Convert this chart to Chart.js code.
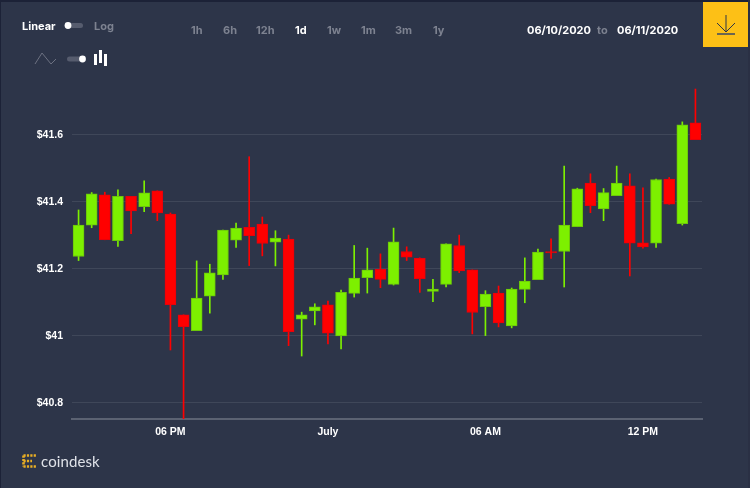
<!DOCTYPE html>
<html lang="en">
<head>
    <meta charset="UTF-8">
    <title>Price Chart</title>
    <script src="https://cdn.jsdelivr.net/npm/chart.js@4/dist/chart.umd.min.js"></script>
    <style>
        html, body { margin: 0; padding: 0; background: #2d3549; overflow: hidden; }
        #page { position: relative; width: 750px; height: 488px; background: #2d3549; overflow: hidden; font-family: Inter, sans-serif; }
        #priceChart { position: absolute; left: 0; top: 0; }
        #topEdge { position: absolute; left: 0; top: 0; width: 750px; height: 2px; background: #1c2237; }
        #leftEdge { position: absolute; left: 0; top: 0; width: 1px; height: 488px; background: #1c2237; }
        .label { position: absolute; font-size: 11px; line-height: 14px; font-weight: 700; white-space: nowrap; color: #7d8290; }
        .on { color: #fff; }
        #download { position: absolute; left: 703px; top: 2px; width: 45px; height: 45px; background: #fdc016; }
        #rightEdge { position: absolute; left: 748px; top: 0; width: 2px; height: 488px; background: #2a3044; }
        svg { position: absolute; }
        #brand { position: absolute; left: 41px; top: 451px; font: 400 15px/20px Lato, sans-serif; letter-spacing: 0.1px; color: #dfe2e8; }
    </style>
</head>
<body>
<div id="page">
    <canvas id="priceChart" width="750" height="488"></canvas>
    <div id="topEdge"></div>
    <div id="leftEdge"></div>
    <div id="rightEdge"></div>

    <div class="label on" style="left:22px;top:19px">Linear</div>
    <div class="label" style="left:94px;top:19px">Log</div>
    <svg style="left:64px;top:21px" width="20" height="10">
        <rect x="1" y="2" width="18" height="5" rx="2.5" fill="#565c6e"></rect>
        <circle cx="4" cy="4.5" r="3.4" fill="#fff"></circle>
    </svg>

    <div class="label" style="left:191px;top:23px">1h</div>
    <div class="label" style="left:223px;top:23px">6h</div>
    <div class="label" style="left:256px;top:23px">12h</div>
    <div class="label on" style="left:295px;top:23px">1d</div>
    <div class="label" style="left:327px;top:23px">1w</div>
    <div class="label" style="left:361px;top:23px">1m</div>
    <div class="label" style="left:395px;top:23px">3m</div>
    <div class="label" style="left:433px;top:23px">1y</div>

    <svg style="left:34px;top:50px" width="24" height="16">
        <polyline points="1,14 8,3 17,14 22,9" fill="none" stroke="#6d7282" stroke-width="1"></polyline>
    </svg>
    <svg style="left:66px;top:54px" width="22" height="10">
        <rect x="1" y="2.5" width="18" height="5" rx="2.5" fill="#565c6e"></rect>
        <circle cx="16.5" cy="5" r="3.4" fill="#fff"></circle>
    </svg>
    <svg style="left:93px;top:49px" width="16" height="18">
        <rect x="1" y="5" width="3" height="11" fill="#fff"></rect>
        <rect x="6" y="1" width="3" height="13" fill="#fff"></rect>
        <rect x="11" y="5" width="3" height="12" fill="#fff"></rect>
    </svg>

    <div class="label on" style="left:527px;top:23px">06/10/2020</div>
    <div class="label" style="left:597px;top:23px">to</div>
    <div class="label on" style="left:617px;top:23px">06/11/2020</div>

    <div id="download">
        <svg style="left:13px;top:13px" width="20" height="24">
            <path d="M10 0 V17 M1 8 L10 17 L19 8" fill="none" stroke="#2d3549" stroke-width="1"></path>
            <rect x="1" y="18" width="18" height="2" fill="#6b6650"></rect>
        </svg>
    </div>

    <svg style="left:22px;top:454px" width="16" height="15">
        <path d="M1.5 1.5 H14 M1.5 7 H10 M1.5 12.5 H14 M1.5 1.5 V12.5" fill="none" stroke="#e9ae24" stroke-width="2.6" stroke-dasharray="2.2 1.2"></path>
    </svg>
    <div id="brand">coindesk</div>
</div>

<script>
    // half hour candles, session time
    const categories = [
        '14:30', '15:00', '15:30', '16:00', '16:30', '17:00', '17:30', '18:00',
        '18:30', '19:00', '19:30', '20:00', '20:30', '21:00', '21:30', '22:00',
        '22:30', '23:00', '23:30', '00:00', '00:30', '01:00', '01:30', '02:00',
        '02:30', '03:00', '03:30', '04:00', '04:30', '05:00', '05:30', '06:00',
        '06:30', '07:00', '07:30', '08:00', '08:30', '09:00', '09:30', '10:00',
        '10:30', '11:00', '11:30', '12:00', '12:30', '13:00', '13:30', '14:00'
    ];
    const opens = [
        41.237, 41.331, 41.421, 41.284, 41.417, 41.386, 41.433, 41.364,
        41.063, 41.016, 41.119, 41.182, 41.286, 41.324, 41.334, 41.280,
        41.289, 41.050, 41.075, 41.093, 41.000, 41.127, 41.174, 41.199,
        41.154, 41.252, 41.232, 41.133, 41.154, 41.270, 41.197, 41.087,
        41.128, 41.030, 41.139, 41.168, 41.252, 41.252, 41.326, 41.456,
        41.379, 41.419, 41.448, 41.278, 41.277, 41.468, 41.335, 41.636
    ];
    const closes = [
        41.331, 41.424, 41.287, 41.417, 41.373, 41.427, 41.367, 41.093,
        41.028, 41.113, 41.188, 41.316, 41.322, 41.299, 41.276, 41.292,
        41.013, 41.063, 41.087, 41.008, 41.130, 41.173, 41.197, 41.169,
        41.281, 41.235, 41.171, 41.140, 41.275, 41.194, 41.070, 41.125,
        41.039, 41.140, 41.164, 41.250, 41.248, 41.331, 41.439, 41.389,
        41.428, 41.456, 41.277, 41.266, 41.467, 41.393, 41.630, 41.586
    ];
    const highs = [
        41.376, 41.428, 41.429, 41.436, 41.417, 41.463, 41.433, 41.367,
        41.063, 41.224, 41.214, 41.316, 41.337, 41.535, 41.355, 41.314,
        41.301, 41.071, 41.096, 41.104, 41.137, 41.270, 41.262, 41.245,
        41.322, 41.266, 41.233, 41.169, 41.275, 41.301, 41.197, 41.135,
        41.149, 41.143, 41.233, 41.259, 41.290, 41.507, 41.441, 41.484,
        41.440, 41.507, 41.484, 41.442, 41.468, 41.473, 41.639, 41.737
    ];
    const lows = [
        41.225, 41.323, 41.287, 41.267, 41.305, 41.371, 41.344, 40.958,
        40.752, 41.016, 41.068, 41.169, 41.264, 41.210, 41.239, 41.209,
        40.971, 40.940, 41.033, 40.976, 40.961, 41.116, 41.128, 41.144,
        41.152, 41.225, 41.130, 41.102, 41.146, 41.189, 41.006, 41.001,
        41.027, 41.024, 41.099, 41.168, 41.231, 41.146, 41.326, 41.368,
        41.344, 41.419, 41.179, 41.262, 41.264, 41.393, 41.331, 41.586
    ];
    const yTicks = [40.8, 41, 41.2, 41.4, 41.6];
    const xTickLabels = { '18:00': '06 PM', '00:00': 'July', '06:00': '06 AM', '12:00': '12 PM' };

    const green = '#7df000';
    const red = '#ff0000';
    const isUp = categories.map((c, i) => closes[i] >= opens[i]);
    const tickFont = { family: 'Liberation Sans, Arial, sans-serif', size: 10.5, weight: 'bold' };

    new Chart(document.getElementById('priceChart').getContext('2d'), {
        type: 'bar',
        data: {
            labels: categories,
            datasets: [
                {
                    label: 'Body',
                    order: 0,
                    data: categories.map((c, i) => [opens[i], closes[i]]),
                    backgroundColor: isUp.map(up => up ? green : red),
                    borderColor: isUp.map(up => up ? '#6cc60a' : '#e8000a'),
                    borderWidth: 1,
                    borderSkipped: false,
                    barThickness: 11,
                    grouped: false
                },
                {
                    label: 'Wick',
                    order: 1,
                    data: categories.map((c, i) => [lows[i], highs[i]]),
                    backgroundColor: isUp.map(up => up ? green : red),
                    borderWidth: 0,
                    barThickness: 1,
                    grouped: false
                }
            ]
        },
        options: {
            responsive: false,
            animation: false,
            layout: { padding: { top: 80, left: 0, right: 48, bottom: 0 } },
            plugins: { legend: { display: false }, tooltip: { enabled: false } },
            scales: {
                x: {
                    offset: true,
                    afterFit: scale => { scale.height = 69; },
                    grid: { display: false, drawTicks: false },
                    border: { display: true, color: '#5b6272', width: 2 },
                    ticks: {
                        autoSkip: false,
                        maxRotation: 0,
                        padding: 7,
                        color: '#ffffff',
                        font: tickFont,
                        callback: function (value) {
                            return xTickLabels[this.getLabelForValue(value)] || '';
                        }
                    }
                },
                y: {
                    min: 40.752,
                    max: 41.764,
                    afterFit: scale => { scale.width = 72; },
                    afterBuildTicks: scale => { scale.ticks = yTicks.map(value => ({ value })); },
                    grid: { color: 'rgba(255,255,255,0.09)', drawTicks: false },
                    border: { display: false },
                    ticks: {
                        padding: 9,
                        color: '#ffffff',
                        font: tickFont,
                        callback: value => '$' + value
                    }
                }
            }
        }
    });
</script>
</body>
</html>
